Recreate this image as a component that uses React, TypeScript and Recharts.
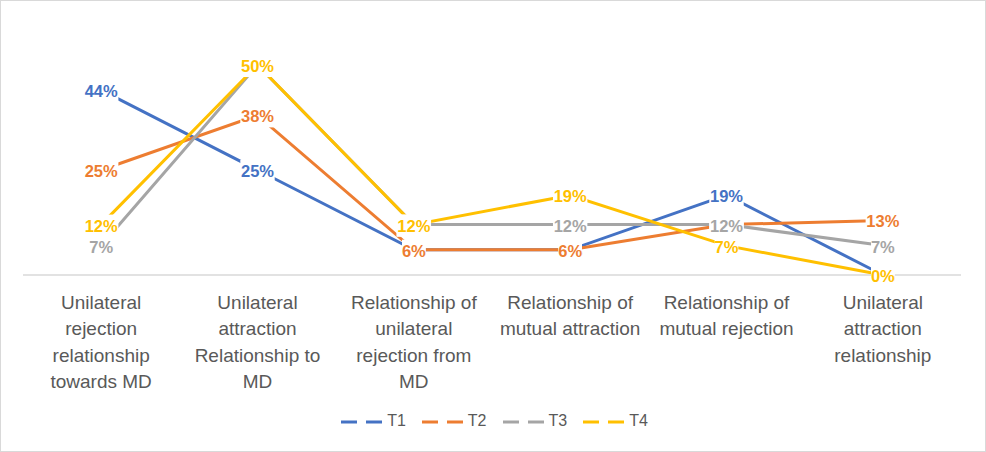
import { LineChart, Line, XAxis, YAxis, LabelList } from 'recharts';

const categories = [
  'Unilateral rejection relationship towards MD',
  'Unilateral attraction Relationship to MD',
  'Relationship of unilateral rejection from MD',
  'Relationship of mutual attraction',
  'Relationship of mutual rejection',
  'Unilateral attraction relationship',
];

// how Excel wrapped each category label
const categoryLines = [
  ['Unilateral', 'rejection', 'relationship', 'towards MD'],
  ['Unilateral', 'attraction', 'Relationship to', 'MD'],
  ['Relationship of', 'unilateral', 'rejection from', 'MD'],
  ['Relationship of', 'mutual attraction'],
  ['Relationship of', 'mutual rejection'],
  ['Unilateral', 'attraction', 'relationship'],
];

const t1 = [44, 25, 6, 6, 19, 0];
const t2 = [25, 38, 6, 6, 12, 13];
const t3 = [7, 50, 12, 12, 12, 7];
const t4 = [12, 50, 12, 19, 7, 0];

const seriesNames = ['T1', 'T2', 'T3', 'T4'];
const colors = ['#4472C4', '#ED7D31', '#A5A5A5', '#FFC000'];

const data = categories.map((name, i) => ({
  name,
  T1: t1[i],
  T2: t2[i],
  T3: t3[i],
  T4: t4[i],
}));

const FONT = '"Liberation Sans", Arial, sans-serif';

const CategoryTick = (props: any) => {
  const { x, y, payload } = props;
  const lines = categoryLines[payload.index] || [payload.value];
  return (
    <g>
      {lines.map((line: string, i: number) => (
        <text
          key={i}
          x={x}
          y={y + 26 + i * 26.4}
          textAnchor="middle"
          fill="#595959"
          fontSize={19}
          fontFamily={FONT}
        >
          {line}
        </text>
      ))}
    </g>
  );
};

const makeLabel = (color: string) => (props: any) => {
  const { x, y, value } = props;
  if (x == null || y == null) return null;
  const text = `${value}%`;
  const w = text.length * 10.8 + 2;
  return (
    <g>
      <rect x={x - w / 2} y={y - 10} width={w} height={22} fill="#fff" />
      <text
        x={x}
        y={y + 7}
        textAnchor="middle"
        fill={color}
        fontSize={16.5}
        fontWeight="bold"
        fontFamily={FONT}
      >
        {text}
      </text>
    </g>
  );
};

export default function App() {
  return (
    <div
      style={{
        position: 'absolute',
        left: 0,
        top: 0,
        width: 986,
        height: 452,
        background: '#fff',
        border: '1px solid #d9d9d9',
        boxSizing: 'border-box',
        fontFamily: FONT,
      }}
    >
      <div style={{ position: 'absolute', left: -1, top: -1 }}>
        <LineChart width={986} height={452} data={data} margin={{ top: 23, right: 25, left: 23, bottom: 57 }}>
          <XAxis
            dataKey="name"
            scale="band"
            interval={0}
            height={120}
            tickLine={false}
            stroke="#d9d9d9"
            strokeWidth={1.5}
            tick={<CategoryTick />}
          />
          <YAxis hide domain={[0, 60]} />
          {seriesNames.map((s, i) => (
            <Line
              key={s}
              type="linear"
              dataKey={s}
              stroke={colors[i]}
              strokeWidth={3}
              dot={false}
              isAnimationActive={false}
            />
          ))}
          {seriesNames.map((s, i) => (
            <Line
              key={`${s}-labels`}
              type="linear"
              dataKey={s}
              stroke="none"
              dot={false}
              legendType="none"
              isAnimationActive={false}
            >
              <LabelList dataKey={s} content={makeLabel(colors[i])} />
            </Line>
          ))}
        </LineChart>
      </div>
      <div
        style={{
          position: 'absolute',
          top: 410,
          left: 0,
          width: 986,
          display: 'flex',
          justifyContent: 'center',
          gap: 15,
          fontSize: 16,
          color: '#595959',
        }}
      >
        {seriesNames.map((s, i) => (
          <div key={s} style={{ display: 'flex', alignItems: 'center' }}>
            <svg width={44} height={20}>
              <line x1={1} y1={11} x2={43} y2={11} stroke={colors[i]} strokeWidth={3} strokeDasharray="16 9" />
            </svg>
            <span style={{ marginLeft: 3 }}>{s}</span>
          </div>
        ))}
      </div>
    </div>
  );
}
